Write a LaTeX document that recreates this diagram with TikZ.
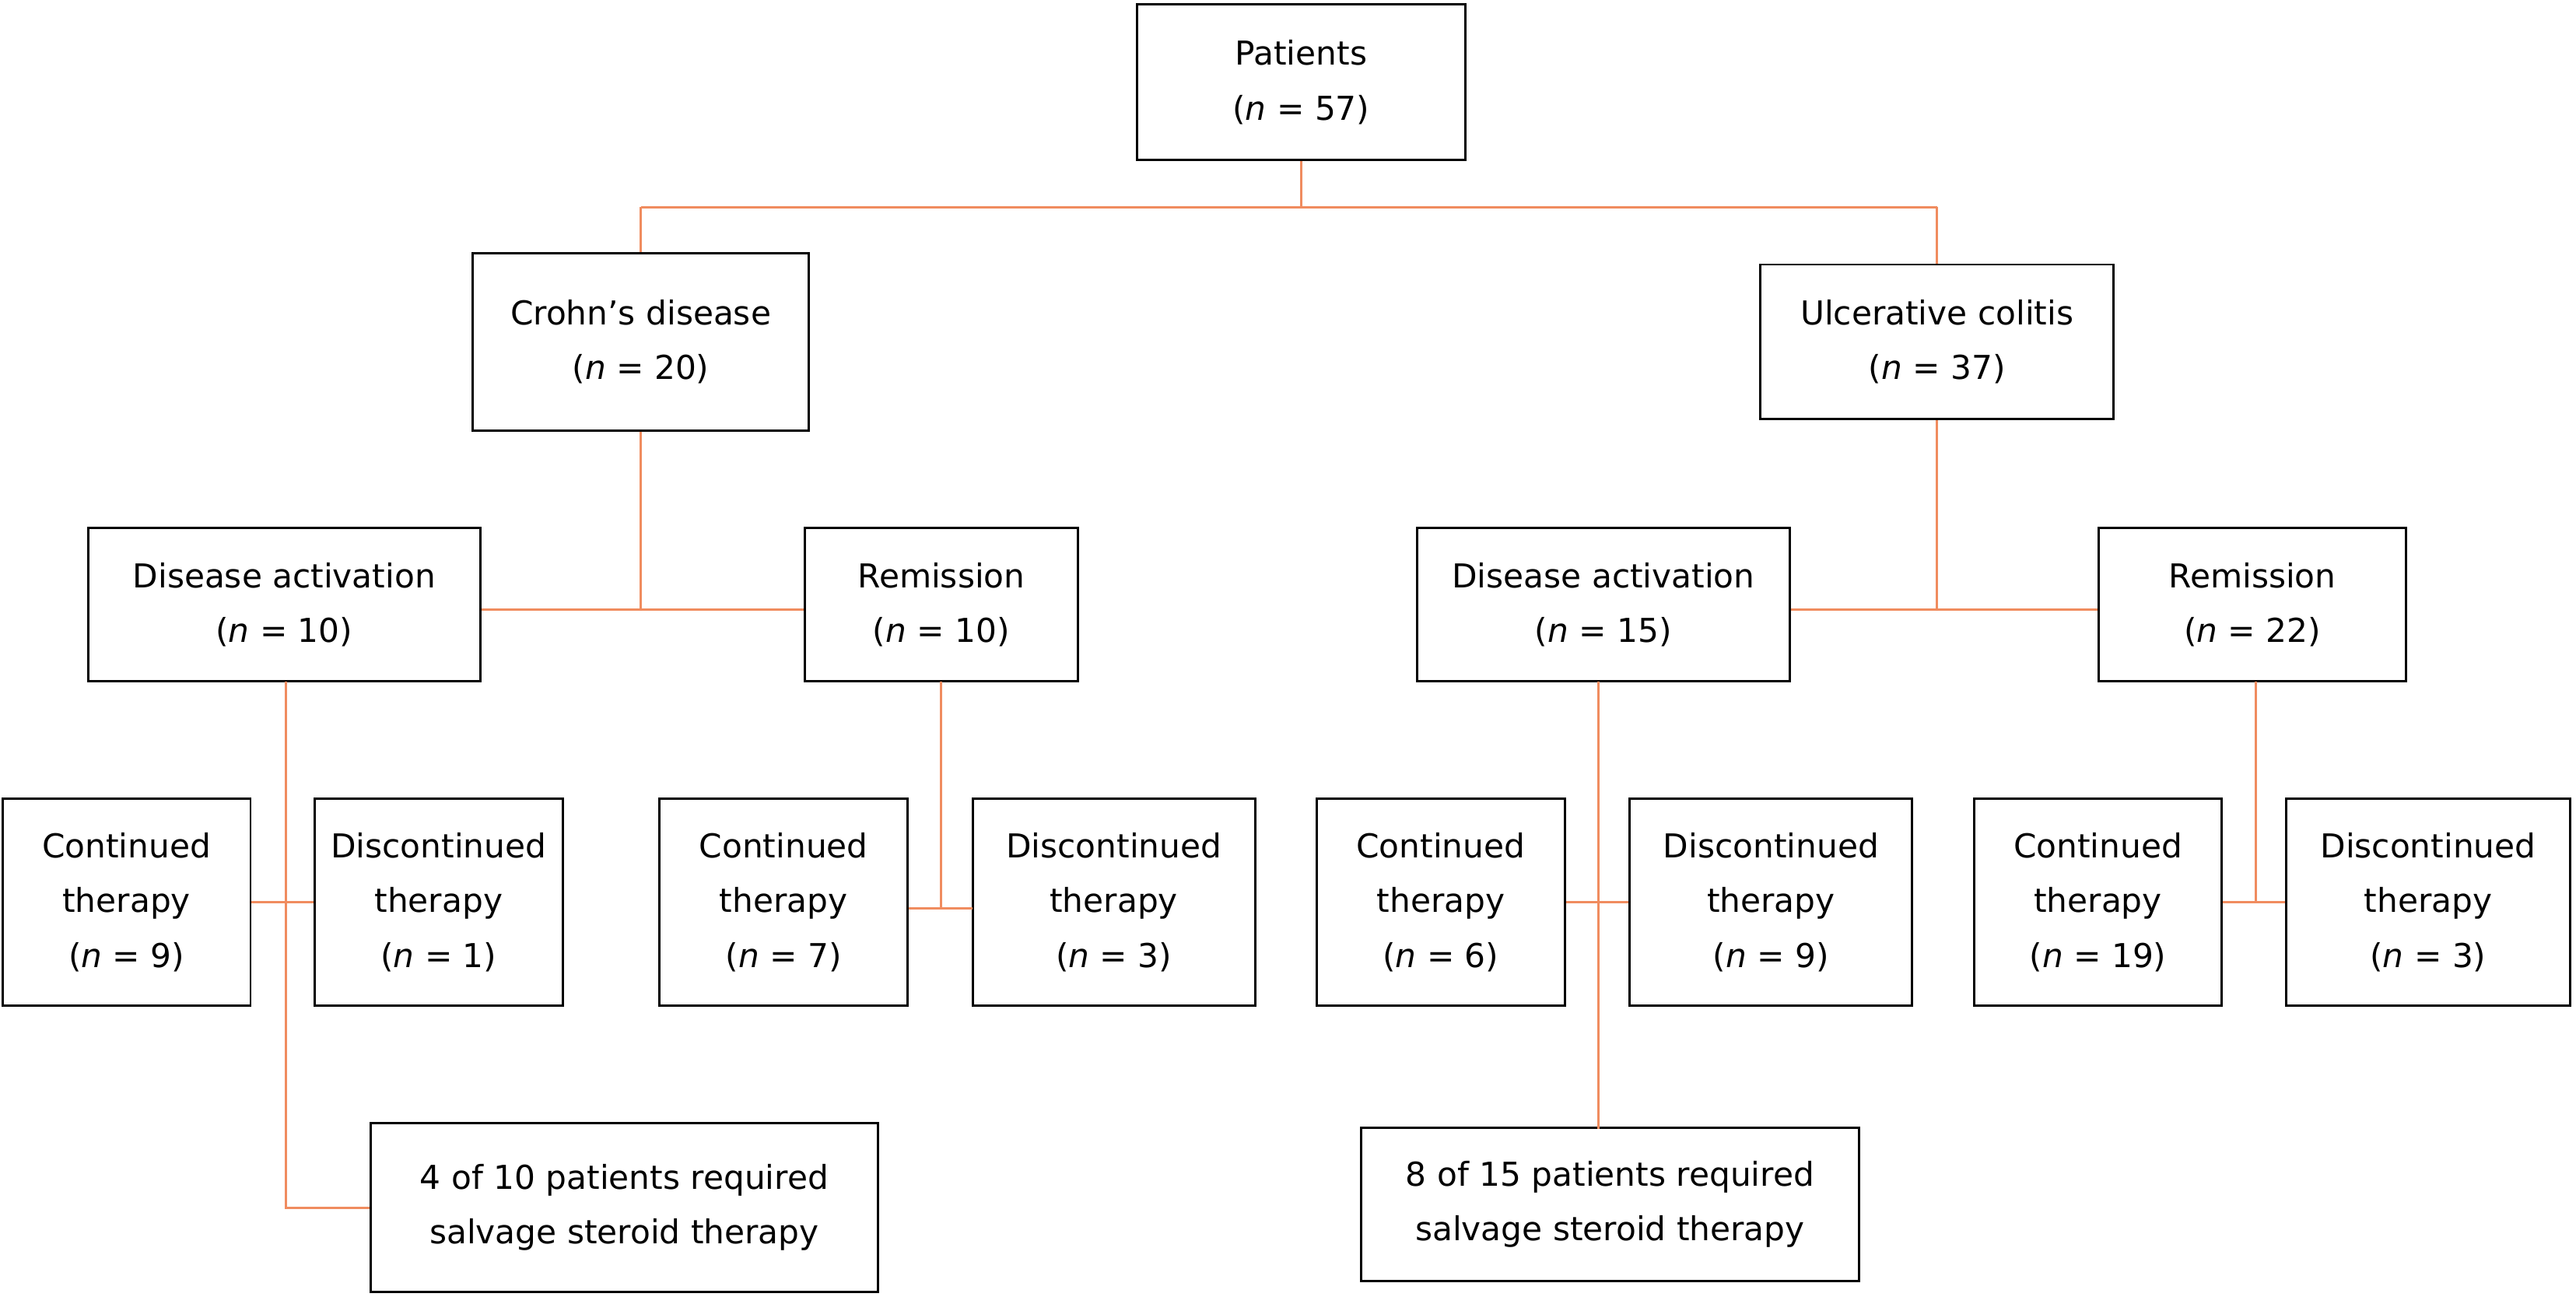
\documentclass[tikz,border=0pt]{standalone}
\usepackage{fontspec}
\setmainfont{DejaVu Sans}
\usetikzlibrary{positioning}
\definecolor{linkorange}{RGB}{240,140,95}
\newcommand{\nn}[1]{(\textit{n} = #1)}

\begin{document}
\begin{tikzpicture}[x=0.02cm,y=-0.02cm,
                    box/.style={draw,thick,align=center,inner sep=0pt,
                      font=\fontsize{11.4}{19}\selectfont},
                    link/.style={draw=linkorange,thick}]
  \useasboundingbox (0,0) rectangle (1568,789);

  \node[box,minimum width=4cm,minimum height=1.9cm] (pat) at (792,50) {Patients\\\nn{57}};
  \node[box,minimum width=4.1cm,minimum height=2.16cm] (cd) at (390,208) {Crohn’s disease\\\nn{20}};
  \node[box,minimum width=4.3cm,minimum height=1.88cm] (uc) at (1179,208) {Ulcerative colitis\\\nn{37}};

  \node[box,minimum width=4.78cm,minimum height=1.86cm] (da1) at (173,368) {Disease activation\\\nn{10}};
  \node[box,minimum width=3.32cm,minimum height=1.86cm] (re1) at (573,368) {Remission\\\nn{10}};
  \node[box,minimum width=4.54cm,minimum height=1.86cm] (da2) at (976,368) {Disease activation\\\nn{15}};
  \node[box,minimum width=3.74cm,minimum height=1.86cm] (re2) at (1371,368) {Remission\\\nn{22}};

  \node[box,minimum width=3.02cm,minimum height=2.52cm] (ct1) at (77,549) {Continued\\therapy\\\nn{9}};
  \node[box,minimum width=3.02cm,minimum height=2.52cm] (dt1) at (267,549) {Discontinued\\therapy\\\nn{1}};
  \node[box,minimum width=3.02cm,minimum height=2.52cm] (ct2) at (477,549) {Continued\\therapy\\\nn{7}};
  \node[box,minimum width=3.44cm,minimum height=2.52cm] (dt2) at (678,549) {Discontinued\\therapy\\\nn{3}};
  \node[box,minimum width=3.02cm,minimum height=2.52cm] (ct3) at (877,549) {Continued\\therapy\\\nn{6}};
  \node[box,minimum width=3.44cm,minimum height=2.52cm] (dt3) at (1078,549) {Discontinued\\therapy\\\nn{9}};
  \node[box,minimum width=3.02cm,minimum height=2.52cm] (ct4) at (1277,549) {Continued\\therapy\\\nn{19}};
  \node[box,minimum width=3.46cm,minimum height=2.52cm] (dt4) at (1478,549) {Discontinued\\therapy\\\nn{3}};

  \node[box,minimum width=6.18cm,minimum height=2.06cm] (sv1) at (380,735) {4 of 10 patients required\\salvage steroid therapy};
  \node[box,minimum width=6.06cm,minimum height=1.86cm] (sv2) at (980,733) {8 of 15 patients required\\salvage steroid therapy};

  % tree links
  \coordinate (top) at (792,126);
  \coordinate (mid1) at (390,371);
  \coordinate (mid2) at (1179,371);
  \path[link] (pat.south) -- (top) (cd.north |- top) -- (uc.north |- top);
  \path[link] (cd.north |- top) -- (cd.north) (uc.north |- top) -- (uc.north);
  \path[link] (cd.south) -- (mid1) (da1.east |- mid1) -- (re1.west |- mid1);
  \path[link] (uc.south) -- (mid2) (da2.east |- mid2) -- (re2.west |- mid2);

  \path[link] (174,415) -- (174,735) -- (sv1.west);
  \path[link] (ct1.east) -- (dt1.west);
  \path[link] (573,415) -- (573,553) (553,553) -- (592,553);
  \path[link] (973,415) -- (973,687);
  \path[link] (ct3.east) -- (dt3.west);
  \path[link] (1373,415) -- (1373,549) (ct4.east) -- (dt4.west);
\end{tikzpicture}
\end{document}
